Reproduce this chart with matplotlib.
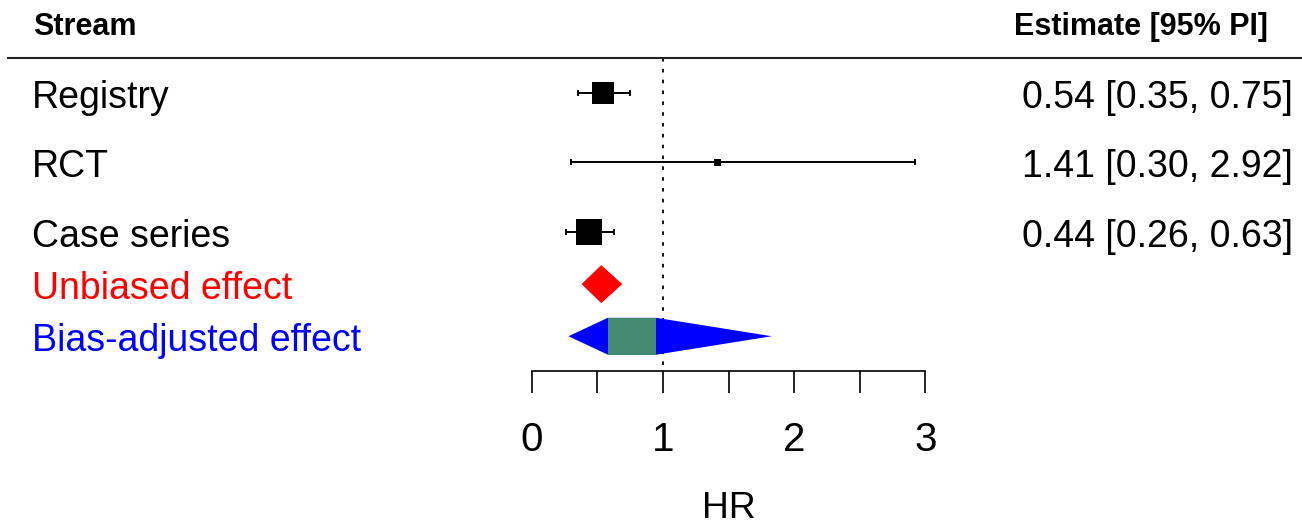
import numpy as np
import matplotlib.pyplot as plt
from matplotlib.patches import Polygon, Rectangle

plt.rcParams['font.family'] = ['Liberation Sans', 'DejaVu Sans']

# study streams (estimate and 95% PI on the HR scale)
streams = ["Registry", "RCT", "Case series"]
est = [0.54, 1.41, 0.44]
lo = [0.35, 0.30, 0.26]
hi = [0.75, 2.92, 0.63]

# pooled effects
unbiased = [0.53, 0.38, 0.69]          # estimate, lower, upper
bias_ci = [0.58, 0.95]                 # green box
bias_pi = [0.28, 1.83]                 # blue outline tips

ticks_major = [0, 1, 2, 3]
ticks_minor = [0.5, 1.5, 2.5]

# row positions (rows run top to bottom)
rows = [0, 1, 2]
row_unb = 2.75
row_bias = 3.5
row_axis = 4

box_px = [22, 7, 26]   # marker side, px
txt_off = 0.21         # baseline offset below row centre
fs = 27

fig = plt.figure(figsize=(13.02, 5.25), dpi=100)
ax = fig.add_axes([0, 0, 1, 1])
ax.set_xlim(-4.0526, 5.871)
ax.set_ylim(6.216, -1.338)
for s in ['top', 'left', 'right']:
    ax.spines[s].set_visible(False)
ax.spines['bottom'].set_position(('data', row_axis))
ax.spines['bottom'].set_bounds(0, 3)
ax.spines['bottom'].set_linewidth(1.2)
ax.set_yticks([])
ax.set_xticks(ticks_major)
ax.set_xticks(ticks_minor, minor=True)
ax.set_xticklabels([str(t) for t in ticks_major])
ax.tick_params(axis='x', which='both', direction='out', length=15.8, width=1.2)
ax.tick_params(axis='x', which='major', labelsize=29, pad=20)
ax.patch.set_visible(False)

# header
ax.text(-3.80, -0.835, "Stream", fontsize=22, fontweight='bold', ha='left', va='baseline')
ax.text(5.61, -0.835, "Estimate [95% PI]", fontsize=22, fontweight='bold', ha='right', va='baseline')
ax.plot([-4.0, 5.871], [-0.5, -0.5], color='#222222', lw=1.5, solid_capstyle='butt')

# reference line at HR = 1
ax.plot([1, 1], [-0.5, row_axis], color='black', lw=1.3, linestyle=(0, (2, 4)), zorder=1)

# individual streams
for r, name, e, l, h, side in zip(rows, streams, est, lo, hi, box_px):
    ax.errorbar([e], [r], xerr=[[e - l], [h - e]], fmt='none', ecolor='black',
                elinewidth=1.4, capsize=2.4, capthick=1.4, zorder=3)
    ax.plot([e], [r], marker='s', markersize=side * 0.72, color='black',
            markeredgewidth=0, zorder=4)
    ax.text(-3.81, r + txt_off, name, fontsize=fs, ha='left', va='baseline')
    ax.text(5.80, r + txt_off, f"{e:.2f} [{l:.2f}, {h:.2f}]", fontsize=fs,
            ha='right', va='baseline')

# unbiased effect diamond
dh = 0.273
ax.add_patch(Polygon([(unbiased[1], row_unb), (unbiased[0], row_unb - dh),
                      (unbiased[2], row_unb), (unbiased[0], row_unb + dh)],
                     closed=True, facecolor='#FF0000', edgecolor='none', zorder=3))
ax.text(-3.81, row_unb + txt_off, "Unbiased effect", fontsize=fs, color='#FF0000',
        ha='left', va='baseline')

# bias-adjusted effect
bh = 0.265
ax.add_patch(Polygon([(bias_pi[0], row_bias), (bias_ci[0], row_bias - bh),
                      (bias_ci[1], row_bias - bh), (bias_pi[1], row_bias),
                      (bias_ci[1], row_bias + bh), (bias_ci[0], row_bias + bh)],
                     closed=True, facecolor='#0000FF', edgecolor='none', zorder=3))
ax.add_patch(Rectangle((bias_ci[0], row_bias - bh), bias_ci[1] - bias_ci[0], 2 * bh,
                       facecolor='#458B74', edgecolor='none', zorder=4))
ax.text(-3.81, row_bias + txt_off, "Bias-adjusted effect", fontsize=fs, color='#0000FF',
        ha='left', va='baseline')

# axis title
ax.text(1.5, 5.98, "HR", fontsize=26.8, ha='center', va='center')

fig.savefig('out.png', dpi=100)
